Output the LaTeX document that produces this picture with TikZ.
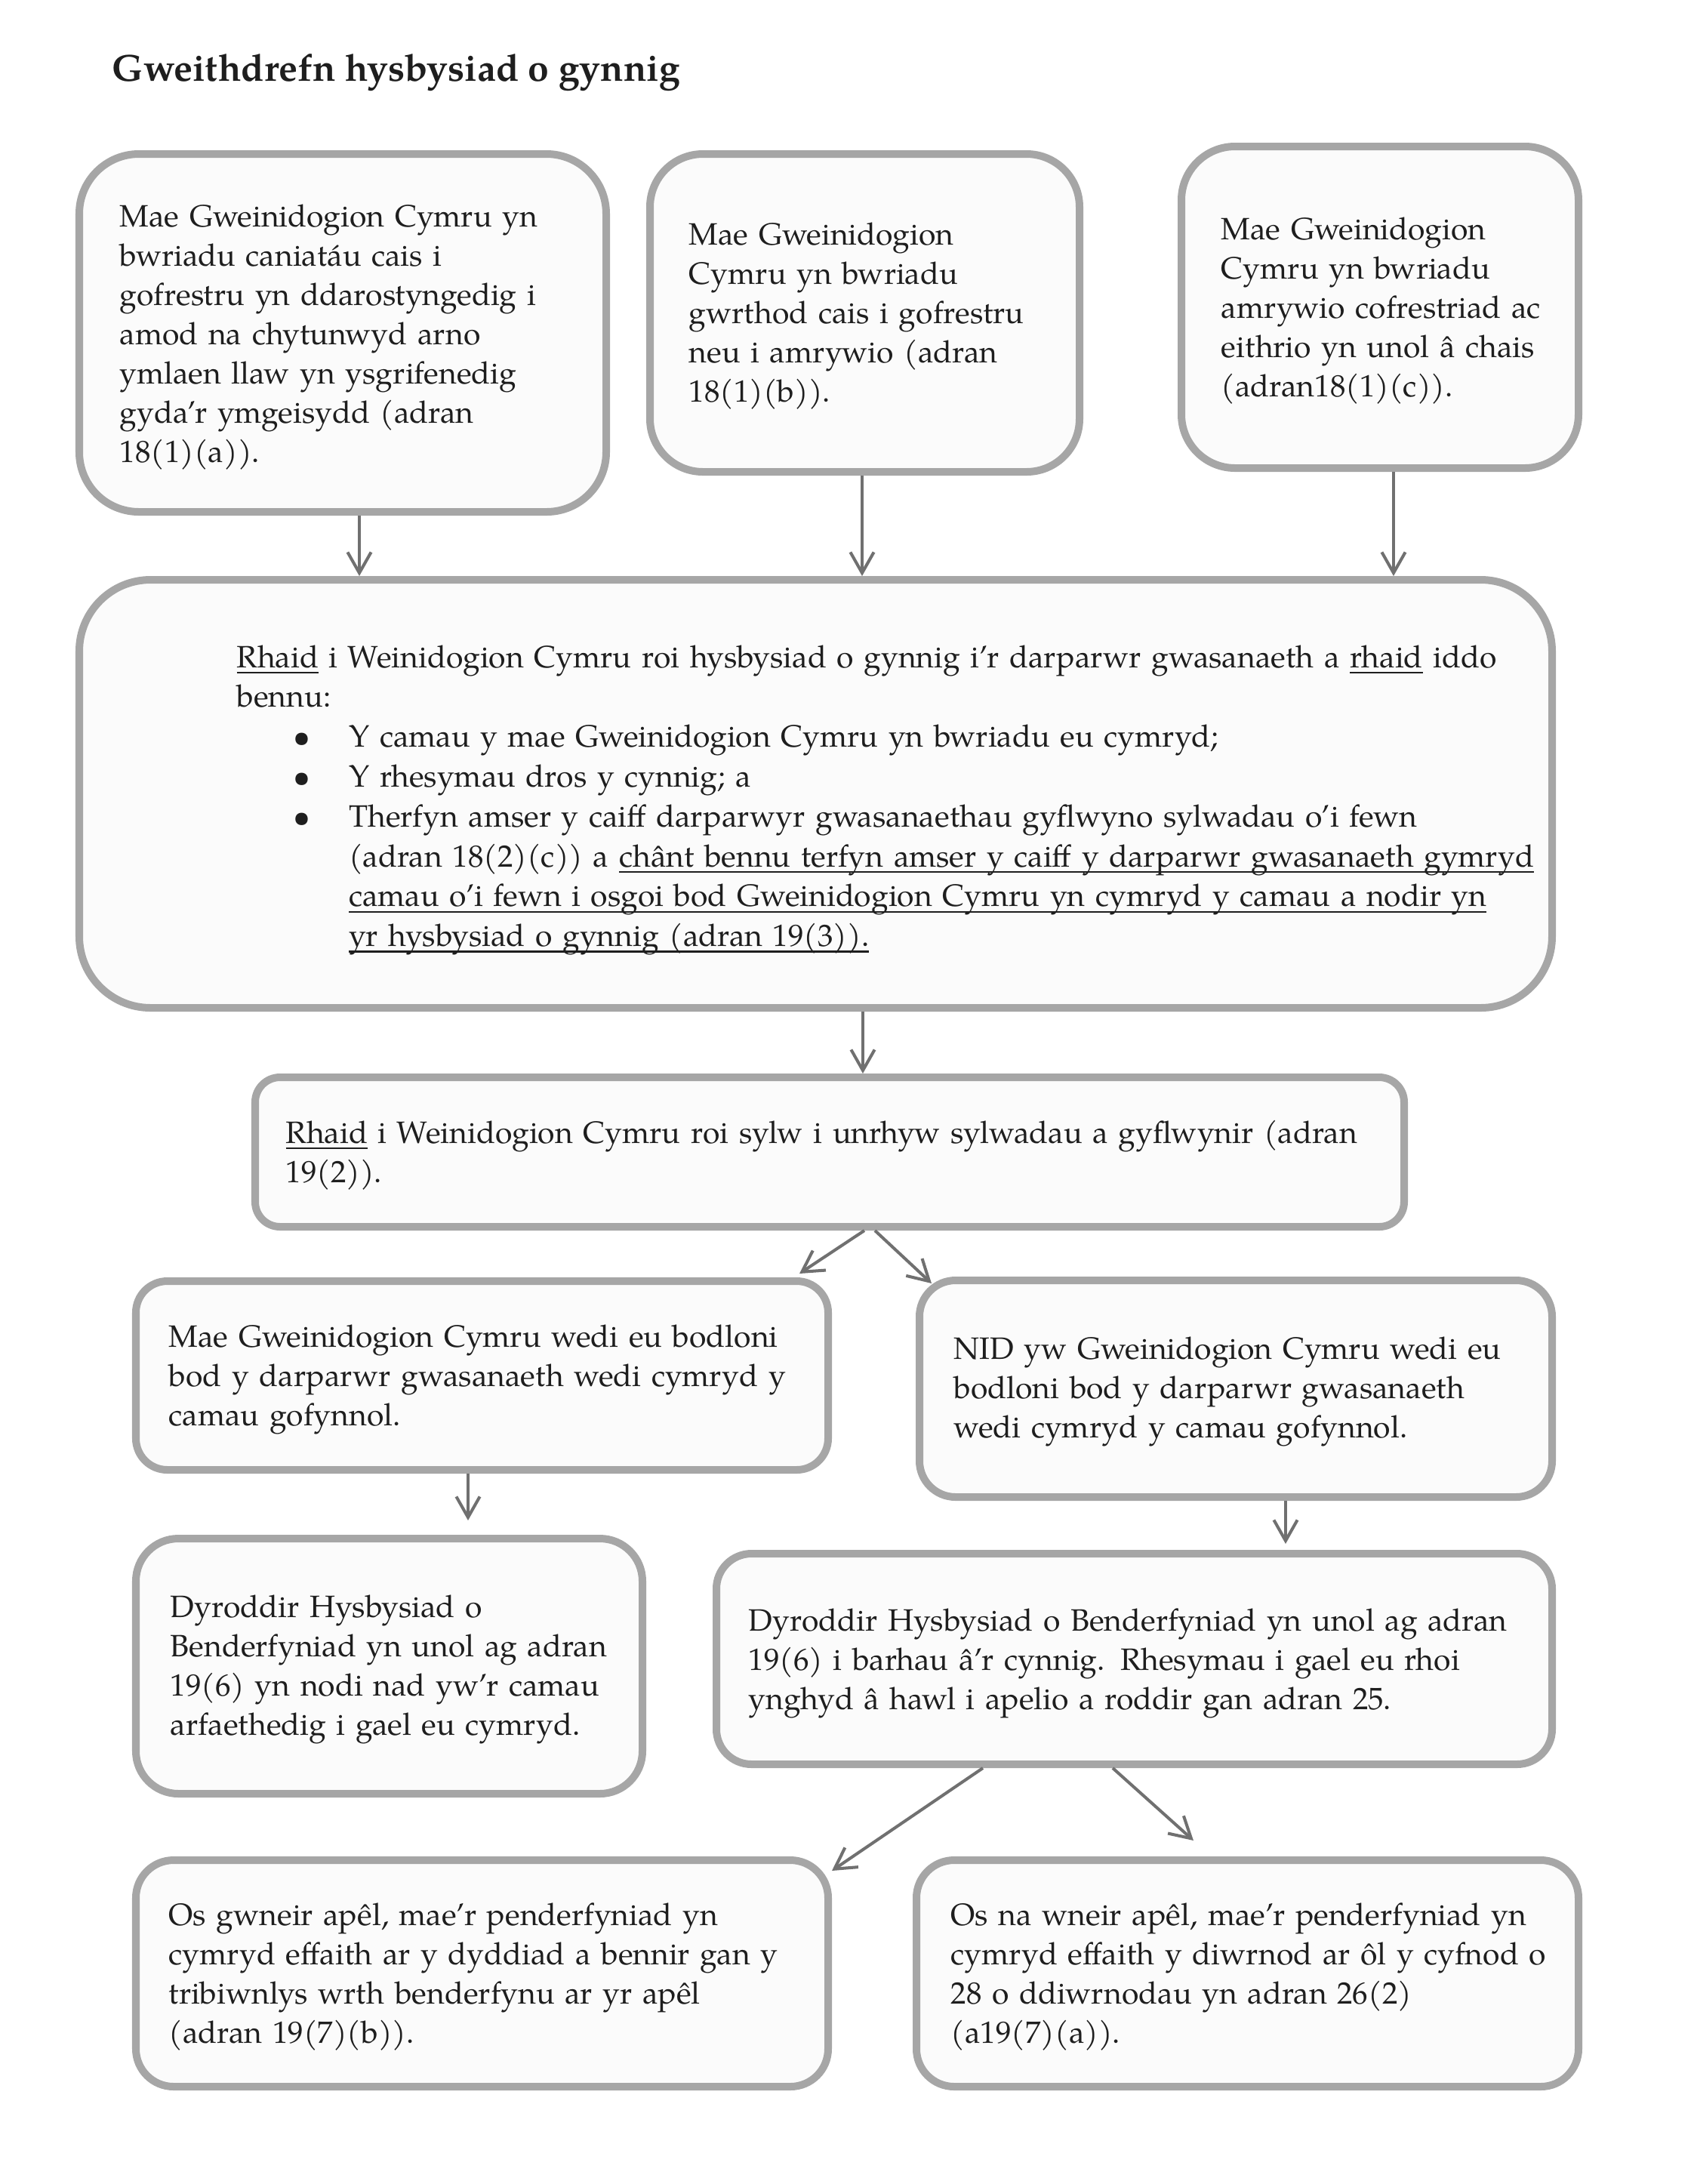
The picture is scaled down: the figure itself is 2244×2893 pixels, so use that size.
\documentclass[tikz,border=0pt]{standalone}
\usepackage{fontspec}
\setmainfont{texgyrepagella}[Extension=.otf, UprightFont=*-regular, BoldFont=*-bold, ItalicFont=*-italic, BoldItalicFont=*-bolditalic]
\newsavebox\ulxbox
\newcommand\ulx[1]{\sbox\ulxbox{#1}\rlap{\rule[-2.3pt]{\wd\ulxbox}{0.7pt}}\usebox\ulxbox}
\usetikzlibrary{arrows.meta}
\definecolor{boxline}{RGB}{166,166,166}
\definecolor{boxfill}{RGB}{251,251,251}
\definecolor{arrowc}{RGB}{112,112,112}
\definecolor{txtc}{RGB}{30,30,30}
\newcommand\mkbox[5]{%
 \pgfmathsetmacro\mkbw{(#4-#2-10)*0.27273}%
 \pgfmathsetmacro\mkbh{(#5-#3-10)*0.27273}%
 \pgfmathsetmacro\mkbr{min(\mkbw,\mkbh)/6}%
 \node[flowbox, minimum width=\mkbw pt, minimum height=\mkbh pt, rounded corners=\mkbr pt] (#1) at ({(#2+#4)/2},{(#3+#5)/2}) {};}
\tikzset{
 flowbox/.style={draw=boxline, fill=boxfill, line width=2.73pt, inner sep=0pt, shape=rectangle},
 txt/.style={anchor=base west, inner sep=0pt, text width=560pt, align=left, text=txtc,
   font=\fontsize{11.15pt}{14.2pt}\selectfont},
 arr/.style={draw=arrowc, line width=1.1pt, -{Straight Barb[length=7.5pt,width=8.5pt]}},
}
\begin{document}
\begin{tikzpicture}[x=0.27273pt, y=-0.27273pt]
\useasboundingbox (0,0) rectangle (2244,2893);
\node[anchor=base west, inner sep=0pt, text=txtc, font=\bfseries\fontsize{13.6pt}{15pt}\selectfont] (title) at (148,107) {Gweithdrefn hysbysiad o gynnig};

\mkbox{A}{100}{199}{808}{683}
\mkbox{B}{856}{199}{1435}{630}
\mkbox{C}{1560}{189}{2096}{625}
\mkbox{D}{100}{763}{2061}{1340}
\mkbox{E}{333}{1422}{1865}{1630}
\mkbox{F}{175}{1692}{1102}{1952}
\mkbox{G}{1213}{1691}{2061}{1988}
\mkbox{H}{175}{2033}{856}{2381}
\mkbox{I}{944}{2053}{2061}{2342}
\mkbox{J}{175}{2459}{1102}{2769}
\mkbox{K}{1209}{2459}{2096}{2769}

\node[txt] (tA) at (158,300) {Mae Gweinidogion Cymru yn\\
bwriadu caniatáu cais i\\
gofrestru yn ddarostyngedig i\\
amod na chytunwyd arno\\
ymlaen llaw yn ysgrifenedig\\
gyda’r ymgeisydd (adran\\
18(1)(a)).};

\node[txt] (tB) at (912,324) {Mae Gweinidogion\\
Cymru yn bwriadu\\
gwrthod cais i gofrestru\\
neu i amrywio (adran\\
18(1)(b)).};

\node[txt] (tC) at (1617,317) {Mae Gweinidogion\\
Cymru yn bwriadu\\
amrywio cofrestriad ac\\
eithrio yn unol â chais\\
(adran18(1)(c)).};

\node[txt, font=\fontsize{11.15pt}{14.4pt}\selectfont] (tD) at (313,884) {\ulx{Rhaid} i Weinidogion Cymru roi hysbysiad o gynnig i’r darparwr gwasanaeth a \ulx{rhaid} iddo\\
bennu:\\
\hspace*{20.5pt}\makebox[20pt][l]{\textbullet}Y camau y mae Gweinidogion Cymru yn bwriadu eu cymryd;\\
\hspace*{20.5pt}\makebox[20pt][l]{\textbullet}Y rhesymau dros y cynnig; a\\
\hspace*{20.5pt}\makebox[20pt][l]{\textbullet}Therfyn amser y caiff darparwyr gwasanaethau gyflwyno sylwadau o’i fewn\\
\hspace*{40.5pt}(adran 18(2)(c)) a \ulx{chânt bennu terfyn amser y caiff y darparwr gwasanaeth gymryd}\\
\hspace*{40.5pt}\ulx{camau o’i fewn i osgoi bod Gweinidogion Cymru yn cymryd y camau a nodir yn}\\
\hspace*{40.5pt}\ulx{yr hysbysiad o gynnig (adran 19(3)).}};

\node[txt] (tE) at (378,1514) {\ulx{Rhaid} i Weinidogion Cymru roi sylw i unrhyw sylwadau a gyflwynir (adran\\
19(2)).};

\node[txt] (tF) at (223,1784) {Mae Gweinidogion Cymru wedi eu bodloni\\
bod y darparwr gwasanaeth wedi cymryd y\\
camau gofynnol.};

\node[txt] (tG) at (1263,1800) {NID yw Gweinidogion Cymru wedi eu\\
bodloni bod y darparwr gwasanaeth\\
wedi cymryd y camau gofynnol.};

\node[txt] (tH) at (225,2142) {Dyroddir Hysbysiad o\\
Benderfyniad yn unol ag adran\\
19(6) yn nodi nad yw’r camau\\
arfaethedig i gael eu cymryd.};

\node[txt] (tI) at (991,2160) {Dyroddir Hysbysiad o Benderfyniad yn unol ag adran\\
19(6) i barhau â’r cynnig. Rhesymau i gael eu rhoi\\
ynghyd â hawl i apelio a roddir gan adran 25.};

\node[txt] (tJ) at (223,2550) {Os gwneir apêl, mae’r penderfyniad yn\\
cymryd effaith ar y dyddiad a bennir gan y\\
tribiwnlys wrth benderfynu ar yr apêl\\
(adran 19(7)(b)).};

\node[txt] (tK) at (1259,2550) {Os na wneir apêl, mae’r penderfyniad yn\\
cymryd effaith y diwrnod ar ôl y cyfnod o\\
28 o ddiwrnodau yn adran 26(2)\\
(a19(7)(a)).};

\coordinate (pEF) at (1059,1687);
\coordinate (pEG) at (1234,1700);
\coordinate (pFH) at (620,2014);
\coordinate (pGI) at (1703,2045);
\coordinate (pIJ) at (1102,2478);
\coordinate (pIK) at (1581,2438);

\draw[arr] (A.south -| 476,0) -- (D.north -| 476,0);
\draw[arr] (B.south -| 1142,0) -- (D.north -| 1142,0);
\draw[arr] (C.south -| 1846,0) -- (D.north -| 1846,0);
\draw[arr] (D.south -| 1143,0) -- (E.north -| 1143,0);
\draw[arr] (E.south -| 1145,0) -- (pEF);
\draw[arr] (E.south -| 1159,0) -- (pEG);
\draw[arr] (F.south -| pFH) -- (pFH);
\draw[arr] (G.south -| pGI) -- (pGI);
\draw[arr] (I.south -| 1302,0) -- (pIJ);
\draw[arr] (I.south -| 1474,0) -- (pIK);
\end{tikzpicture}
\end{document}
